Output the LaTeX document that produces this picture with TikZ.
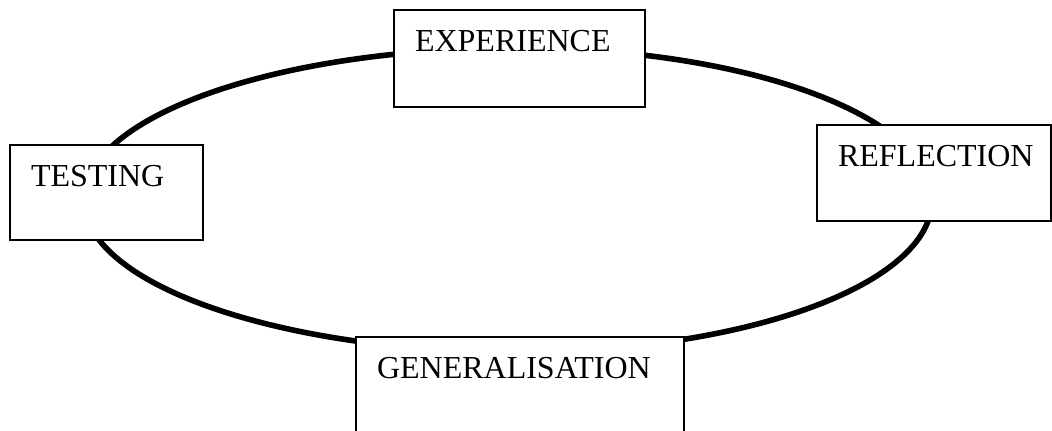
\documentclass[tikz,border=0pt]{standalone}
\usepackage{fontspec}
\setmainfont{Liberation Serif}
\usepackage{tikz}
\usetikzlibrary{positioning}
\tikzstyle{cycleline} = [line width=2.8pt, color=black]
\tikzstyle{stagebox} = [rectangle, draw=black, fill=white, line width=1pt, anchor=north west, align=left, inner xsep=10.5pt, inner ysep=5.5pt, text height=15pt, font=\fontsize{16}{19}\selectfont]

\begin{document}
\begin{tikzpicture}[x=0.5pt, y=-0.5pt]
    \clip (0,0) rectangle (1052,430);
    % Cycle
    \draw[cycleline] (518,48) arc[start angle=-90, end angle=90, x radius=414, y radius=152]
        arc[start angle=90, end angle=270, x radius=434, y radius=152] -- cycle;

    % Stage boxes
    \node[stagebox, text width=104.5pt, text depth=22.5pt] (exp) at (393,9) {EXPERIENCE};
    \node[stagebox, text width=96pt, text depth=22pt] (refl) at (816,124) {REFLECTION};
    \node[stagebox, text width=143pt, text depth=40pt] (gen) at (355,336) {GENERALISATION};
    \node[stagebox, text width=75.5pt, text depth=21.5pt] (test) at (9,144) {TESTING};
\end{tikzpicture}
\end{document}
